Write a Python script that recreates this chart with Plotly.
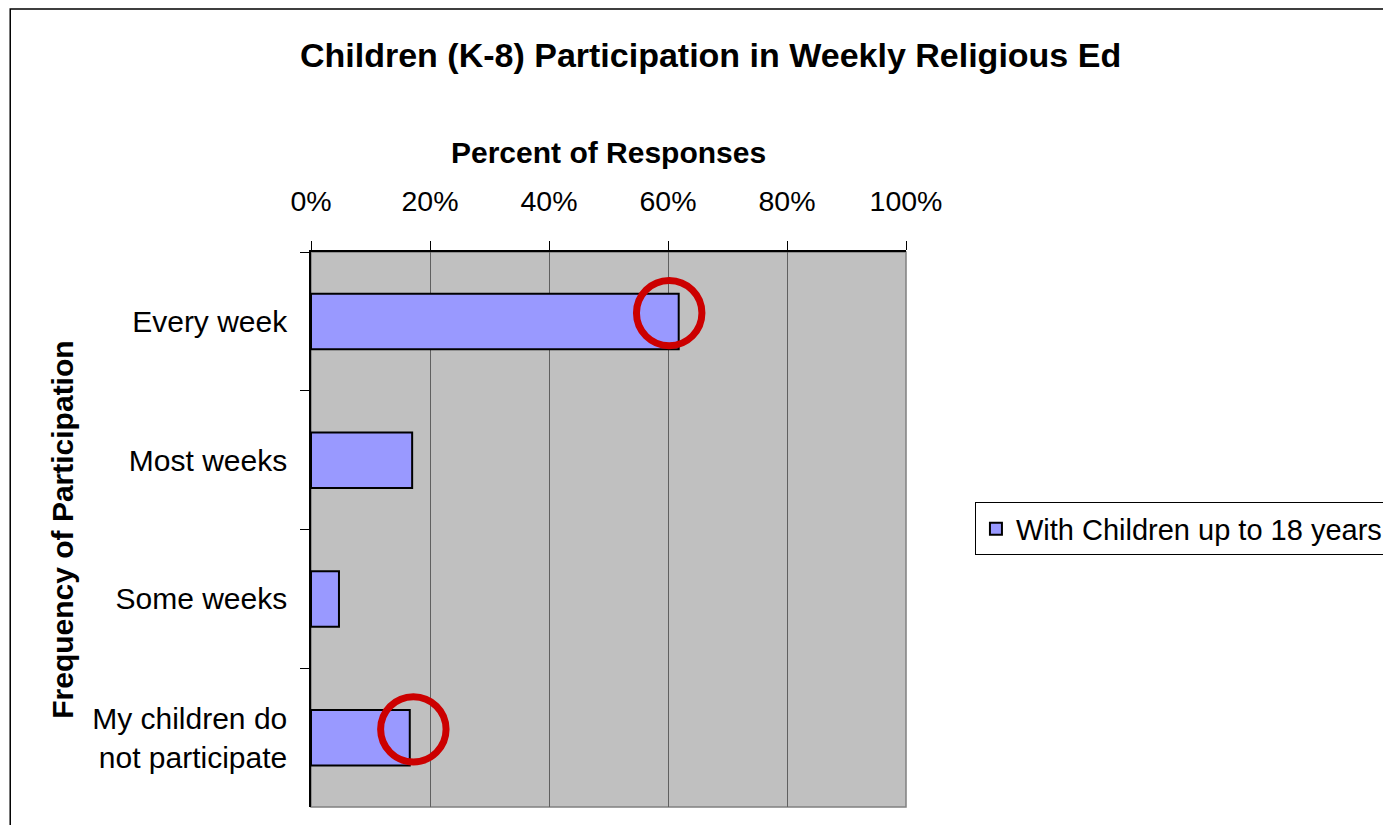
import plotly.graph_objects as go

# data
categories = ['Every week', 'Most weeks', 'Some weeks', 'My children do<br>not participate']
percent_responses = [61.8, 17.0, 4.7, 16.6]
series_name = 'With Children up to 18 years'
x_ticks = [0, 20, 40, 60, 80, 100]
x_tick_labels = ['0%', '20%', '40%', '60%', '80%', '100%']
highlighted = [0, 3]  # bars circled in red

FONT = 'Arial, Liberation Sans, sans-serif'

fig = go.Figure()
fig.add_trace(go.Bar(
    x=percent_responses, y=categories, orientation='h', name=series_name,
    width=0.4, marker=dict(color='#9999FF', line=dict(color='black', width=2)),
    showlegend=True,
))

# red circles around the highlighted bar ends (hand drawn, so a bit off-centre)
shapes = []
for i, dx in zip(highlighted, [-1.6, 0.6]):
    cx = percent_responses[i] + dx
    cy = i - 0.06
    shapes.append(dict(type='circle', xref='x', yref='y',
                       x0=cx - 5.5, x1=cx + 5.5, y0=cy - 0.235, y1=cy + 0.235,
                       line=dict(color='#CC0000', width=7), layer='above'))

# plot area border (grey) and outer chart frame
shapes.append(dict(type='rect', xref='paper', yref='paper', x0=0, x1=1, y0=0, y1=1,
                   line=dict(color='#808080', width=1.5), layer='below'))
shapes.append(dict(type='rect', xref='paper', yref='paper', x0=-0.5055, x1=1.9, y0=-0.2, y1=1.438,
                   line=dict(color='black', width=1.5), layer='below'))

fig.update_layout(
    width=1391, height=825,
    margin=dict(l=303, r=492, t=244, b=26),
    paper_bgcolor='white', plot_bgcolor='#C0C0C0',
    font=dict(family=FONT, size=29, color='black'),
    shapes=shapes,
    showlegend=True,
    legend=dict(x=1.114, xanchor='left', y=0.501, yanchor='middle',
                bordercolor='black', borderwidth=1, bgcolor='white',
                font=dict(size=29), itemwidth=30),
    bargap=0.6,
    annotations=[
        dict(text='<b>Children (K-8) Participation in Weekly Religious Ed</b>',
             xref='paper', yref='paper', x=0.671, y=1.355,
             xanchor='center', yanchor='middle', showarrow=False, font=dict(size=34)),
        dict(text='<b>Percent of Responses</b>',
             xref='paper', yref='paper', x=0.5, y=1.180,
             xanchor='center', yanchor='middle', showarrow=False, font=dict(size=30)),
        dict(text='<b>Frequency of Participation</b>', textangle=-90,
             xref='paper', yref='paper', x=-0.418, y=0.5,
             xanchor='center', yanchor='middle', showarrow=False, font=dict(size=30)),
    ],
)

fig.update_xaxes(
    side='top', range=[0, 100], tickvals=x_ticks, ticktext=x_tick_labels,
    showgrid=True, gridcolor='#606060', gridwidth=1, zeroline=False,
    showline=True, linecolor='black', linewidth=1.5,
    ticks='outside', ticklen=9, tickcolor='black', tickfont=dict(size=28.5),
    ticklabelstandoff=19,
)
fig.update_yaxes(
    autorange=False, range=[3.5, -0.5], tickson='boundaries',
    showgrid=False, zeroline=False,
    showline=True, linecolor='black', linewidth=1.5,
    ticks='outside', ticklen=9, tickcolor='black', tickfont=dict(size=30),
    ticklabelstandoff=16,
)

fig.write_html('out.html')
